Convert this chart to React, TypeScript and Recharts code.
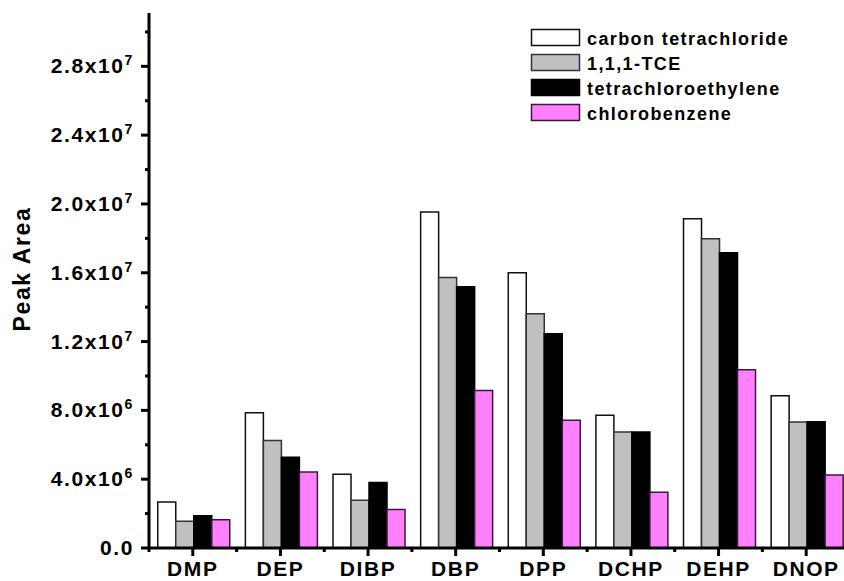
import { BarChart, Bar, XAxis, YAxis, Legend } from 'recharts';

// values
const categories = ['DMP', 'DEP', 'DIBP', 'DBP', 'DPP', 'DCHP', 'DEHP', 'DNOP'];
const carbonTetrachloride = [2.68e6, 7.86e6, 4.28e6, 1.953e7, 1.6e7, 7.71e6, 1.914e7, 8.85e6];
const trichloroethane = [1.56e6, 6.25e6, 2.78e6, 1.572e7, 1.362e7, 6.75e6, 1.797e7, 7.33e6];
const tetrachloroethylene = [1.88e6, 5.28e6, 3.81e6, 1.518e7, 1.246e7, 6.75e6, 1.716e7, 7.34e6];
const chlorobenzene = [1.64e6, 4.42e6, 2.24e6, 9.15e6, 7.42e6, 3.24e6, 1.036e7, 4.25e6];

const yTicks = [
  0, 2e6, 4e6, 6e6, 8e6, 1e7, 1.2e7, 1.4e7, 1.6e7, 1.8e7, 2e7, 2.2e7, 2.4e7, 2.6e7, 2.8e7, 3e7,
];

const series = [
  { key: 'ct', name: 'carbon tetrachloride', fill: '#ffffff', stroke: '#111111' },
  { key: 'tce', name: '1,1,1-TCE', fill: '#c0c0c0', stroke: '#333333' },
  { key: 'pce', name: 'tetrachloroethylene', fill: '#000000', stroke: '#000000' },
  { key: 'cb', name: 'chlorobenzene', fill: '#ff80ff', stroke: '#3a1a3a' },
];

const data = categories.map((name, i) => ({
  name,
  ct: carbonTetrachloride[i],
  tce: trichloroethane[i],
  pce: tetrachloroethylene[i],
  cb: chlorobenzene[i],
}));

const FONT = '"Liberation Sans", Arial, Helvetica, sans-serif';
const CHART_W = 850;
const CHART_H = 581;
const Y_AXIS_W = 149;
const HALF_BAND = (CHART_W - Y_AXIS_W) / categories.length / 2;

function YTick({ x, y, payload }: any) {
  const v = payload.value as number;
  const major = Math.round(v / 2e6) % 2 === 0;
  const len = major ? 8 : 4;
  let label: any = null;
  if (major) {
    if (v === 0) {
      label = <tspan>0.0</tspan>;
    } else {
      const exp = Math.floor(Math.log10(v) + 1e-9);
      const mant = (v / Math.pow(10, exp)).toFixed(1);
      label = (
        <>
          <tspan>{mant}x10</tspan>
          <tspan dy={-8} fontSize={14}>{exp}</tspan>
        </>
      );
    }
  }
  return (
    <g>
      <line x1={x - len} x2={x} y1={y} y2={y} stroke="#000" strokeWidth={3} />
      {major && (
        <text
          x={x - 15}
          y={y + 7}
          textAnchor="end"
          fontFamily={FONT}
          fontWeight="bold"
          fontSize={21}
          letterSpacing={1.6}
          fill="#000"
        >
          {label}
        </text>
      )}
    </g>
  );
}

function XTick({ x, y, payload, index }: any) {
  return (
    <g>
      <line x1={x} x2={x} y1={y} y2={y + 8} stroke="#000" strokeWidth={3} />
      <line x1={x - HALF_BAND} x2={x - HALF_BAND} y1={y} y2={y + 4} stroke="#000" strokeWidth={3} />
      {index === categories.length - 1 && (
        <line x1={x + HALF_BAND} x2={x + HALF_BAND} y1={y} y2={y + 4} stroke="#000" strokeWidth={3} />
      )}
      <text
        x={x}
        y={y + 28}
        textAnchor="middle"
        fontFamily={FONT}
        fontWeight="bold"
        fontSize={21}
        letterSpacing={1.6}
        fill="#000"
      >
        {payload.value}
      </text>
    </g>
  );
}

function LegendBox() {
  return (
    <svg width={300} height={110}>
      {series.map((s, i) => (
        <g key={s.key}>
          <rect
            x={6.5}
            y={9.5 + i * 25}
            width={48}
            height={16}
            fill={s.fill}
            stroke={s.stroke}
            strokeWidth={1.5}
          />
          <text
            x={62}
            y={24.5 + i * 25}
            fontFamily={FONT}
            fontWeight="bold"
            fontSize={18}
            letterSpacing={1.4}
            fill="#000"
          >
            {s.name}
          </text>
        </g>
      ))}
    </svg>
  );
}

const YLabel = () => (
  <text
    transform="translate(30,269) rotate(-90)"
    textAnchor="middle"
    fontFamily={FONT}
    fontWeight="bold"
    fontSize={23}
    letterSpacing={1.6}
    fill="#000"
  >
    Peak Area
  </text>
);

export default function App() {
  return (
    <div
      style={{
        position: 'absolute',
        left: 0,
        top: 0,
        width: 844,
        height: 581,
        overflow: 'hidden',
        background: '#fff',
      }}
    >
      <BarChart
        width={CHART_W}
        height={CHART_H}
        data={data}
        margin={{ top: 13, right: 0, bottom: 0, left: 0 }}
        barCategoryGap="10%"
        barGap={0}
      >
        <XAxis
          dataKey="name"
          height={33}
          interval={0}
          tickLine={false}
          tickSize={0}
          tickMargin={0}
          axisLine={{ stroke: '#000', strokeWidth: 3 }}
          tick={<XTick />}
        />
        <YAxis
          width={Y_AXIS_W}
          domain={[0, 3.11e7]}
          ticks={yTicks}
          interval={0}
          tickLine={false}
          tickSize={0}
          tickMargin={0}
          axisLine={{ stroke: '#000', strokeWidth: 3 }}
          tick={<YTick />}
          label={YLabel}
        />
        <Legend
          layout="horizontal"
          verticalAlign="middle"
          align="center"
          content={() => <LegendBox />}
          wrapperStyle={{ position: 'absolute', top: 20, left: 525, width: 300, height: 110 }}
        />
        {series.map((s) => (
          <Bar
            key={s.key}
            dataKey={s.key}
            name={s.name}
            fill={s.fill}
            stroke={s.stroke}
            strokeWidth={1.5}
            isAnimationActive={false}
          />
        ))}
      </BarChart>
    </div>
  );
}
